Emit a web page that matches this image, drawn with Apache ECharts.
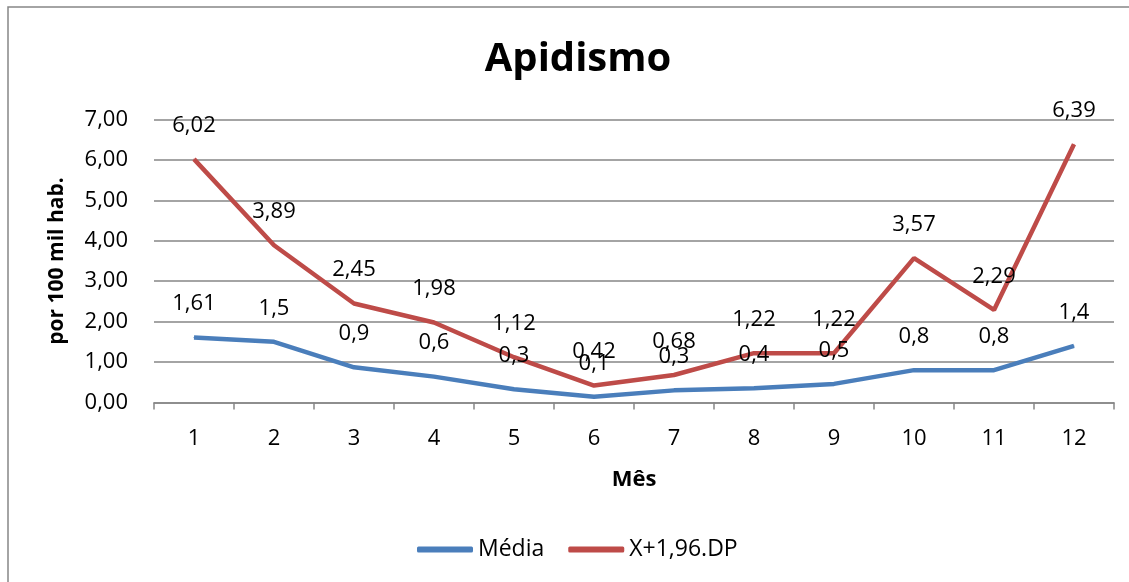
<!DOCTYPE html>
<html><head><meta charset="utf-8">
<script src="https://cdn.jsdelivr.net/npm/echarts@6/dist/echarts.min.js"></script>
<style>html,body{margin:0;padding:0;background:#fff}#c{width:1129px;height:582px}</style>
</head><body><div id="c"></div>
<script>
const meses = ['1','2','3','4','5','6','7','8','9','10','11','12'];
const media = [1.61, 1.5, 0.87, 0.64, 0.33, 0.14, 0.3, 0.35, 0.46, 0.8, 0.8, 1.4];
const mediaLabels = ['1,61','1,5','0,9','0,6','0,3','0,1','0,3','0,4','0,5','0,8','0,8','1,4'];
const limite = [6.02, 3.89, 2.45, 1.98, 1.12, 0.42, 0.68, 1.22, 1.22, 3.57, 2.29, 6.39];
const yTicks = [0, 1, 2, 3, 4, 5, 6, 7];

const FONT = '"Open Sans", "Liberation Sans", sans-serif';
const chart = echarts.init(document.getElementById('c'), null, {renderer: 'canvas'});
const fmt = v => v.toFixed(2).replace('.', ',');
const lblStyle = {show: true, position: 'top', distance: 22, color: '#000', fontFamily: FONT, fontSize: 22, lineHeight: 22};
chart.setOption({
  animation: false,
  title: {text: 'Apidismo', left: 573, top: 35, textAlign: 'center',
    textStyle: {fontFamily: FONT, fontWeight: 'bold', fontSize: 40, color: '#000'}},
  graphic: [{type: 'rect', shape: {x: 8, y: 7, width: 1300, height: 700}, style: {fill: 'none', stroke: '#868686', lineWidth: 1.5}, silent: true}],
  legend: {top: 533, left: 412, itemWidth: 56, itemHeight: 6, itemGap: 24, icon: 'roundRect',
    textStyle: {fontFamily: FONT, fontSize: 23, color: '#000'},
    data: ['Média', 'X+1,96.DP']},
  grid: {left: 154, right: 15, top: 119.5, bottom: 179.5, containLabel: false},
  xAxis: {type: 'category', data: meses, boundaryGap: true,
    name: 'Mês', nameLocation: 'middle', nameGap: 66,
    nameTextStyle: {fontFamily: FONT, fontWeight: 'bold', fontSize: 22, color: '#000'},
    axisLine: {lineStyle: {color: '#868686', width: 1.5}},
    axisTick: {show: true, length: 7, alignWithLabel: false, lineStyle: {color: '#868686', width: 1.5}},
    axisLabel: {margin: 25, fontFamily: FONT, fontSize: 22, color: '#000'}},
  yAxis: {type: 'value', min: 0, max: yTicks[yTicks.length - 1], interval: 1,
    name: 'por 100 mil hab.', nameLocation: 'middle', nameGap: 86, nameRotate: 90,
    nameTextStyle: {fontFamily: FONT, fontWeight: 'bold', fontSize: 21, color: '#000'},
    axisLine: {show: false}, axisTick: {show: false},
    splitLine: {lineStyle: {color: '#868686', width: 1.5}},
    axisLabel: {margin: 26, fontFamily: FONT, fontSize: 22, color: '#000', formatter: fmt}},
  series: [
    {name: 'Média', type: 'line', data: media, symbol: 'circle', symbolSize: 1, showSymbol: true,
      lineStyle: {color: '#4A7EBB', width: 4.5}, itemStyle: {color: '#4A7EBB'},
      label: Object.assign({}, lblStyle, {formatter: p => mediaLabels[p.dataIndex]})},
    {name: 'X+1,96.DP', type: 'line', data: limite, symbol: 'circle', symbolSize: 1, showSymbol: true,
      lineStyle: {color: '#BE4B48', width: 4.5}, itemStyle: {color: '#BE4B48'},
      label: Object.assign({}, lblStyle, {formatter: p => String(p.value).replace('.', ',')})}
  ]
});
</script></body></html>
